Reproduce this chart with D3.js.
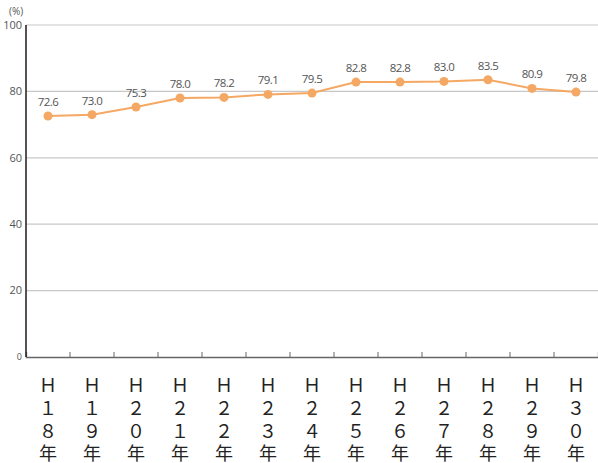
<!DOCTYPE html>
<html>
<head>
<meta charset="utf-8">
<script src="https://cdn.jsdelivr.net/npm/d3@7"></script>
<style>
  body { margin: 0; background: #fff; }
  svg { display: block; }
</style>
</head>
<body>
<div id="viz"></div>
<script>
const years = ['Ｈ１８年', 'Ｈ１９年', 'Ｈ２０年', 'Ｈ２１年', 'Ｈ２２年', 'Ｈ２３年', 'Ｈ２４年',
               'Ｈ２５年', 'Ｈ２６年', 'Ｈ２７年', 'Ｈ２８年', 'Ｈ２９年', 'Ｈ３０年'];
const rates = [72.6, 73.0, 75.3, 78.0, 78.2, 79.1, 79.5, 82.8, 82.8, 83.0, 83.5, 80.9, 79.8];
const yTicks = [0, 20, 40, 60, 80, 100];

function buildChart(containerId) {
    const width = 598;
    const height = 463;

    const margin = { top: 25, bottom: 106, left: 26, right: 0 };
    const innerWidth = width - margin.left - margin.right;
    const innerHeight = height - margin.top - margin.bottom;

    const svg = d3.select(containerId)
        .append('svg')
        .attr('width', width)
        .attr('height', height)
        .style('font-family', '"Open Sans", "Noto Sans", sans-serif');

    const g = svg.append('g')
        .attr('transform', `translate(${margin.left},${margin.top})`);

    const x = d3.scaleBand()
        .domain(years)
        .range([0, innerWidth]);

    const y = d3.scaleLinear()
        .domain([0, 100])
        .range([innerHeight, 0]);

    // gridlines
    g.selectAll('.grid')
        .data(yTicks.filter(d => d > 0))
        .enter()
        .append('line')
        .attr('class', 'grid')
        .attr('x1', 0)
        .attr('x2', innerWidth)
        .attr('y1', d => y(d))
        .attr('y2', d => y(d))
        .attr('stroke', '#c8c8c8')
        .attr('stroke-width', 1.2);

    // y tick labels
    g.selectAll('.ylab')
        .data(yTicks)
        .enter()
        .append('text')
        .attr('class', 'ylab')
        .attr('x', -4)
        .attr('y', d => y(d))
        .attr('dy', '0.35em')
        .attr('text-anchor', 'end')
        .attr('font-size', d => d === 0 ? 9 : 11)
        .attr('fill', '#555')
        .text(d => d);

    svg.append('text')
        .attr('x', 9)
        .attr('y', 15)
        .attr('font-size', 10)
        .attr('fill', '#555')
        .text('(%)');

    // x axis with upward ticks
    const xAxis = d3.axisBottom(x)
        .tickValues(years.slice(0, -1))
        .tickSize(-5)
        .tickFormat('');

    const xg = g.append('g')
        .attr('class', 'x-axis')
        .attr('transform', `translate(0,${innerHeight})`)
        .call(xAxis);
    xg.select('.domain').attr('stroke', '#666').attr('stroke-width', 1.3);
    xg.selectAll('.tick line')
        .attr('stroke', '#666')
        .attr('transform', d => `translate(${x.bandwidth() / 2},0)`);

    // y axis line
    g.append('line')
        .attr('x1', 0).attr('x2', 0)
        .attr('y1', y(100)).attr('y2', innerHeight)
        .attr('stroke', '#2e2624')
        .attr('stroke-width', 1.6);

    // vertical category labels, one character per row
    const labs = g.selectAll('.xlab')
        .data(years)
        .enter()
        .append('text')
        .attr('class', 'xlab')
        .attr('font-family', '"Noto Sans CJK JP", sans-serif')
        .attr('font-size', 18)
        .attr('fill', '#222')
        .attr('text-anchor', 'middle');

    labs.selectAll('tspan')
        .data(d => Array.from(d).map(c => ({ c, key: d })))
        .enter()
        .append('tspan')
        .attr('x', d => x(d.key) + x.bandwidth() / 2)
        .attr('y', (d, i) => innerHeight + 35 + i * 22.8)
        .text(d => d.c);

    const data = years.map((d, i) => ({ year: d, value: rates[i] }));

    const line = d3.line()
        .x(d => x(d.year) + x.bandwidth() / 2)
        .y(d => y(d.value));

    g.append('path')
        .datum(data)
        .attr('fill', 'none')
        .attr('stroke', '#f5a863')
        .attr('stroke-width', 2)
        .attr('d', line);

    g.selectAll('.dot')
        .data(data)
        .enter()
        .append('circle')
        .attr('class', 'dot')
        .attr('cx', d => x(d.year) + x.bandwidth() / 2)
        .attr('cy', d => y(d.value))
        .attr('r', 4.5)
        .attr('fill', '#f5a863');

    g.selectAll('.val')
        .data(data)
        .enter()
        .append('text')
        .attr('class', 'val')
        .attr('x', d => x(d.year) + x.bandwidth() / 2)
        .attr('y', d => y(d.value) - 10)
        .attr('text-anchor', 'middle')
        .attr('font-size', 11.5)
        .attr('fill', '#555')
        .attr('letter-spacing', '-0.5')
        .text(d => d.value.toFixed(1));
}

buildChart('#viz');
</script>
</body>
</html>
